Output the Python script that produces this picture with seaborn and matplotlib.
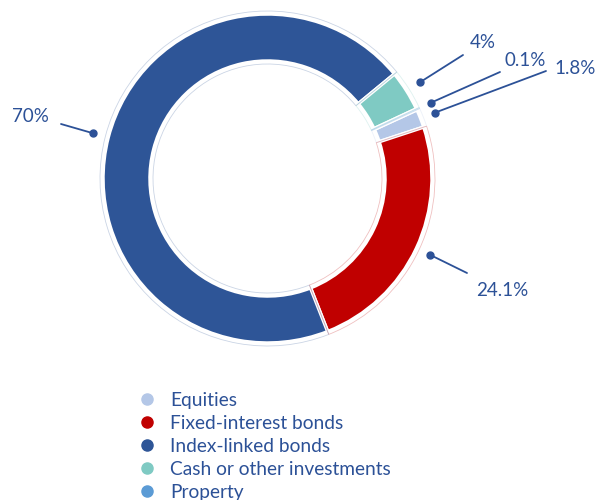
import matplotlib
matplotlib.use("Agg")
import matplotlib.pyplot as plt
from matplotlib.lines import Line2D
import numpy as np
import seaborn as sns

# Данные
categories = ["Equities", "Fixed-interest bonds", "Index-linked bonds",
              "Cash or other investments", "Property"]
shares = [1.8, 24.1, 70, 4, 0.1]
value_labels = ["1.8%", "24.1%", "70%", "4%", "0.1%"]

sns.set_theme(style="white")
plt.rcParams["font.family"] = ["Lato", "DejaVu Sans"]

palette = sns.color_palette(["#b4c7e7", "#c00000", "#2e5597", "#7fcac3", "#5b9bd5"])
text_color = "#2c5197"

W, H = 598, 500
fig = plt.figure(figsize=(W / 100, H / 100), dpi=100)
ax = fig.add_axes([0, 0, 1, 1])


def px(x, y):
    # пиксели картинки -> координаты осей
    return x, H - y


cx, cy = px(267.5, 178.5)
r_out, ring = 164.5, 47

wedges, _ = ax.pie(shares, colors=palette, center=(cx, cy), radius=r_out,
                   startangle=24.7, counterclock=False,
                   wedgeprops=dict(width=ring, edgecolor="white", linewidth=2.5))

# тонкий ореол вокруг сегментов
halo, _ = ax.pie(shares, colors=palette, center=(cx, cy), radius=r_out + 3,
                 startangle=24.7, counterclock=False,
                 wedgeprops=dict(width=ring + 6, linewidth=0.6))
for w, c in zip(halo, palette):
    w.set_facecolor("none")
    w.set_edgecolor((*c, 0.25))

# подписи: конец линии и центр текста (в пикселях)
line_ends = [(546, 71), (467, 273), (61, 124), (463, 55), (500, 72)]
text_pos = [(575, 68), (502, 291), (30, 117), (483, 43), (525, 60)]

for w, lab, le, tp in zip(wedges, value_labels, line_ends, text_pos):
    mid = np.deg2rad((w.theta1 + w.theta2) / 2)
    dot = (cx + 180 * np.cos(mid), cy + 180 * np.sin(mid))
    ex, ey = px(*le)
    ax.plot([dot[0], ex], [dot[1], ey], color=text_color, lw=1.3)
    ax.plot(*dot, "o", color=text_color, ms=5)
    tx, ty = px(*tp)
    ax.text(tx, ty, lab, color=text_color, fontsize=13.5, ha="center", va="center")

ax.set_xlim(0, W)
ax.set_ylim(0, H)
ax.set_aspect("equal")
ax.axis("off")

handles = [Line2D([], [], marker="o", ls="", color=c, ms=8) for c in palette]
leg = ax.legend(handles, categories, loc="upper left",
                bbox_to_anchor=px(139.5, 392), bbox_transform=ax.transData,
                frameon=False, fontsize=13.75, borderpad=0, borderaxespad=0,
                handlelength=0.8, handletextpad=0.8, labelspacing=0.31)
for t in leg.get_texts():
    t.set_color(text_color)

fig.savefig("out.png", dpi=100)
